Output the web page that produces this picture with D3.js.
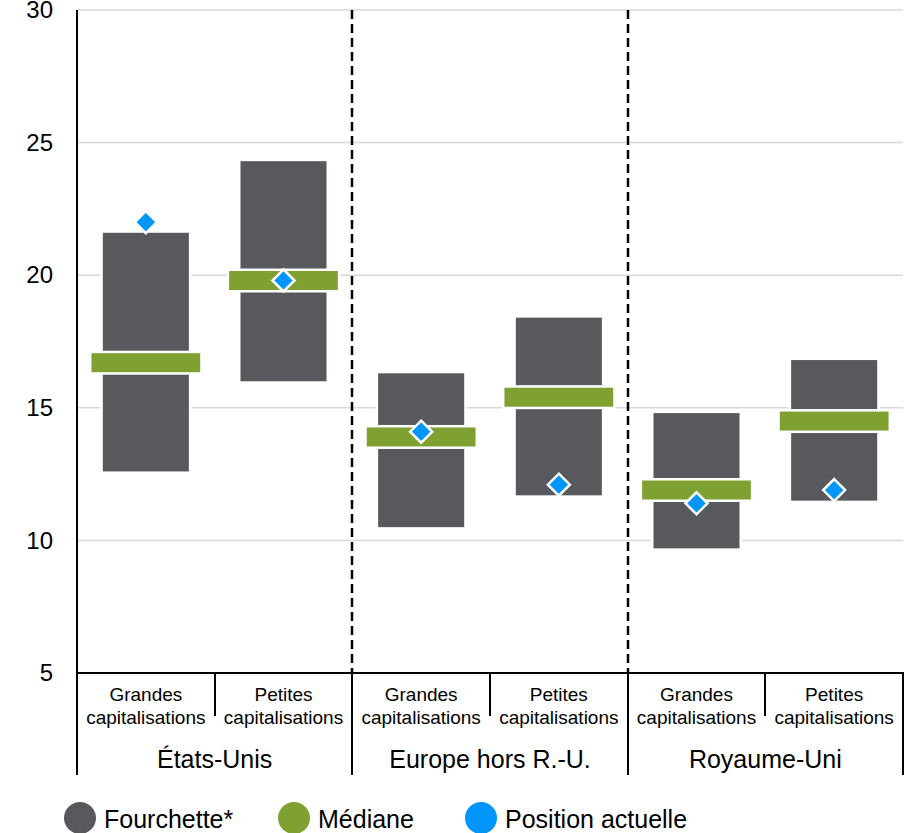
<!DOCTYPE html>
<html><head><meta charset="utf-8">
<script src="https://cdn.jsdelivr.net/npm/d3@7"></script>
<style>html,body{margin:0;padding:0;background:#fff}svg{display:block;font-family:"Liberation Sans",Arial,sans-serif}</style>
</head><body><svg id="c" width="920" height="833"></svg>
<script>
const groups = ["États-Unis", "Europe hors R.-U.", "Royaume-Uni"];
const sizes = ["Grandes|capitalisations", "Petites|capitalisations"];
const rangeLow  = [12.6, 16.0, 10.5, 11.7, 9.7, 11.5];
const rangeHigh = [21.6, 24.3, 16.3, 18.4, 14.8, 16.8];
const medians   = [16.7, 19.8, 13.9, 15.4, 11.9, 14.5];
const current   = [22.0, 19.8, 14.1, 12.1, 11.4, 11.9];
const yTicks = [5, 10, 15, 20, 25, 30];
const legendLabels = ["Fourchette*", "Médiane", "Position actuelle"];

const colGray = "#57595c", colGreen = "#7ea131", colBlue = "#0095fa";
const svg = d3.select("#c");
const L = 77, R = 903, T = 10, B = 673;

const keys = [];
groups.forEach((g, gi) => sizes.forEach((s, si) => keys.push(gi + "_" + si)));
const data = keys.map((k, i) => ({key: k, g: +k.split("_")[0], s: +k.split("_")[1],
  lo: rangeLow[i], hi: rangeHigh[i], med: medians[i], cur: current[i]}));

const x = d3.scaleBand().domain(keys).range([L, R]).padding(0);
const xg = d3.scaleBand().domain(groups).range([L, R]).padding(0);
const y = d3.scaleLinear().domain([5, 30]).range([B, T]);

// gridlines
svg.append("g").selectAll("line").data(yTicks.filter(t => t > 5)).join("line")
  .attr("x1", L).attr("x2", R).attr("y1", d => y(d)).attr("y2", d => y(d))
  .attr("stroke", "#d9d9d9").attr("stroke-width", 1.5);

// y tick labels
const yAxis = d3.axisLeft(y).tickValues(yTicks).tickSize(0).tickPadding(24);
const ya = svg.append("g").attr("transform", `translate(${L},0)`).call(yAxis);
ya.select(".domain").remove();
ya.selectAll("text").attr("font-size", 24).attr("fill", "#000").attr("font-family", "Liberation Sans, Arial, sans-serif");

// dashed group separators
svg.append("g").selectAll("line").data(groups.slice(1)).join("line")
  .attr("x1", d => Math.round(xg(d))).attr("x2", d => Math.round(xg(d)))
  .attr("y1", T).attr("y2", B)
  .attr("stroke", "#000").attr("stroke-width", 2.5).attr("stroke-dasharray", "9,5");

// range bars
const bw = x.bandwidth() * 0.625;
svg.append("g").selectAll("rect").data(data).join("rect")
  .attr("x", d => x(d.key) + (x.bandwidth() - bw) / 2)
  .attr("width", bw)
  .attr("y", d => y(d.hi)).attr("height", d => y(d.lo) - y(d.hi))
  .attr("fill", colGray).attr("stroke", "#fff").attr("stroke-width", 5)
  .attr("paint-order", "stroke");

// median bars
const mw = x.bandwidth() * 0.79, mh = 19;
svg.append("g").selectAll("rect").data(data).join("rect")
  .attr("x", d => x(d.key) + (x.bandwidth() - mw) / 2)
  .attr("width", mw)
  .attr("y", d => y(d.med) - mh / 2).attr("height", mh)
  .attr("fill", colGreen).attr("stroke", "#fff").attr("stroke-width", 5)
  .attr("paint-order", "stroke");

// current position diamonds
const dr = 11;
svg.append("g").selectAll("path").data(data).join("path")
  .attr("d", `M0,${-dr}L${dr},0L0,${dr}L${-dr},0Z`)
  .attr("transform", d => `translate(${x(d.key) + x.bandwidth() / 2},${y(d.cur)})`)
  .attr("fill", colBlue).attr("stroke", "#fff").attr("stroke-width", 2.5);

// axis frame
const ax = svg.append("g").attr("stroke", "#000").attr("stroke-width", 2);
ax.append("line").attr("x1", L).attr("x2", L).attr("y1", T).attr("y2", 775);
ax.append("line").attr("x1", L - 1).attr("x2", R + 1).attr("y1", B).attr("y2", B);
ax.selectAll(".gsep").data(groups).join("line").attr("class", "gsep")
  .attr("x1", d => Math.round(xg(d) + xg.bandwidth())).attr("x2", d => Math.round(xg(d) + xg.bandwidth()))
  .attr("y1", B).attr("y2", 775);
ax.selectAll(".ssep").data(data.filter(d => d.s === 1)).join("line").attr("class", "ssep")
  .attr("x1", d => Math.round(x(d.key))).attr("x2", d => Math.round(x(d.key)))
  .attr("y1", B).attr("y2", 716);

// sub labels
const sl = svg.append("g").attr("font-size", 19).attr("text-anchor", "middle").attr("fill", "#000");
data.forEach(d => {
  const parts = sizes[d.s].split("|");
  const cx = x(d.key) + x.bandwidth() / 2;
  sl.append("text").attr("x", cx).attr("y", 701).text(parts[0]);
  sl.append("text").attr("x", cx).attr("y", 724).text(parts[1]);
});

// group labels
svg.append("g").selectAll("text").data(groups).join("text")
  .attr("x", d => xg(d) + xg.bandwidth() / 2).attr("y", 768)
  .attr("text-anchor", "middle").attr("font-size", 25).attr("fill", "#000")
  .text(d => d);

// legend
const legX = [80, 294, 481];
const legC = [colGray, colGreen, colBlue];
const lg = svg.append("g").selectAll("g").data(legendLabels).join("g")
  .attr("transform", (d, i) => `translate(${legX[i]},818)`);
lg.append("circle").attr("r", 16).attr("fill", (d, i) => legC[i]);
lg.append("text").attr("x", 24).attr("y", 10).attr("font-size", 25).attr("fill", "#000").text(d => d);
</script></body></html>
